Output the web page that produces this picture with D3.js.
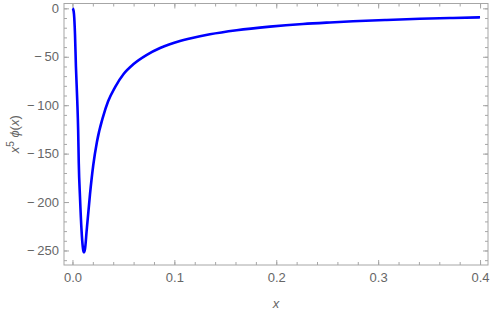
<!DOCTYPE html>
<meta charset="utf-8">
<html>
  <head>
    <title>x5 phi</title>
    <style>
      html,body{
        margin:0;
        padding:0;
        background:#fff;
      }
      text{
        font-family: 'Liberation Sans', Arial, sans-serif;
        font-size: 13px;
        fill: #666;
      }
      .frame{
        fill: none;
        stroke: #a6a6a6;
        stroke-width: 1;
      }
      .tick line{
        stroke: #a6a6a6;
      }
      .curve{
        fill: none;
        stroke: #0000ff;
        stroke-width: 2.6;
        stroke-linejoin: round;
      }
    </style>
  </head>
  <body>
    <svg xmlns="http://www.w3.org/2000/svg"></svg>

    <script src="https://d3js.org/d3.v7.min.js"></script>
    <script type="text/javascript">
      var width = 491, height = 315;
      var margin = {top: 3.5, right: 3, bottom: 50, left: 64};

      // curve
      var xs = [0, 0.0007, 0.0015, 0.0025, 0.0034, 0.0047, 0.0056, 0.0062, 0.0074, 0.0089, 0.0101, 0.0107, 0.0113,
                0.0119, 0.0125, 0.0139, 0.0172, 0.0204, 0.024, 0.030, 0.035, 0.042, 0.050, 0.060, 0.073, 0.086,
                0.1055, 0.1153, 0.1349, 0.1611, 0.1938, 0.2262, 0.2527, 0.2753, 0.3083, 0.341, 0.3734, 0.4];
      var ys = [0, -1, -6, -27, -60, -95, -126, -160, -195, -229, -246, -250.5, -252,
                -250.5, -247, -230, -192, -162, -138, -112, -96, -81, -68, -57.5, -48, -41,
                -33.8, -31.2, -26.8, -22.6, -18.9, -16.2, -14.6, -13.4, -12.0, -10.8, -9.9, -9.25];

      var xTicks = [0, 0.1, 0.2, 0.3, 0.4];
      var yTicks = [0, -50, -100, -150, -200, -250];
      var xMinor = d3.range(0, 0.41, 0.02);
      var yMinor = d3.range(-260, 1, 10);

      var svg = d3.select('svg').attr('width', width).attr('height', height);

      var x = d3.scaleLinear()
        .domain([-0.0083, 0.4078])
        .range([margin.left, width - margin.right]);
      var y = d3.scaleLinear()
        .domain([-265, 5])
        .range([height - margin.bottom, margin.top]);

      var x0 = margin.left, x1 = width - margin.right;
      var y0 = height - margin.bottom, y1 = margin.top;

      function noDomain(g){ g.select('.domain').remove(); }
      // mathematica puts a little room after the minus sign
      function yFmt(d){ return d < 0 ? '\u2212\u2009' + Math.abs(d) : String(d); }

      // minor ticks
      svg.append('g').attr('transform', 'translate(0,' + y0 + ')')
        .call(d3.axisBottom(x).tickValues(xMinor).tickSize(-3).tickFormat('')).call(noDomain);
      svg.append('g').attr('transform', 'translate(0,' + y1 + ')')
        .call(d3.axisTop(x).tickValues(xMinor).tickSize(-3).tickFormat('')).call(noDomain);
      svg.append('g').attr('transform', 'translate(' + x0 + ',0)')
        .call(d3.axisLeft(y).tickValues(yMinor).tickSize(-3).tickFormat('')).call(noDomain);
      svg.append('g').attr('transform', 'translate(' + x1 + ',0)')
        .call(d3.axisRight(y).tickValues(yMinor).tickSize(-3).tickFormat('')).call(noDomain);

      // major ticks
      svg.append('g').attr('transform', 'translate(0,' + y0 + ')')
        .call(d3.axisBottom(x).tickValues(xTicks).tickSize(-5).tickPadding(8).tickFormat(d3.format('.1f')))
        .call(noDomain);
      svg.append('g').attr('transform', 'translate(0,' + y1 + ')')
        .call(d3.axisTop(x).tickValues(xTicks).tickSize(-5).tickFormat('')).call(noDomain);
      svg.append('g').attr('transform', 'translate(' + x0 + ',0)')
        .call(d3.axisLeft(y).tickValues(yTicks).tickSize(-5).tickPadding(5).tickFormat(yFmt))
        .call(noDomain);
      svg.append('g').attr('transform', 'translate(' + x1 + ',0)')
        .call(d3.axisRight(y).tickValues(yTicks).tickSize(-5).tickFormat('')).call(noDomain);

      svg.selectAll('.tick text').attr('font-family', null).attr('font-size', null);

      svg.append('rect')
        .attr('class', 'frame')
        .attr('x', x0).attr('y', y1)
        .attr('width', x1 - x0).attr('height', y0 - y1);

      var line = d3.line()
        .x(function(d, i){ return x(xs[i]); })
        .y(function(d, i){ return y(ys[i]); })
        .curve(d3.curveMonotoneX);

      svg.append('path')
        .attr('class', 'curve')
        .attr('d', line(xs));

      // axis labels
      svg.append('text')
        .attr('x', (x0 + x1) / 2)
        .attr('y', 308)
        .attr('text-anchor', 'middle')
        .style('font-style', 'italic')
        .text('x');

      var yl = svg.append('text')
        .attr('transform', 'translate(19,' + ((y0 + y1) / 2) + ') rotate(-90)')
        .attr('text-anchor', 'middle');
      yl.append('tspan').style('font-style', 'italic').text('x');
      yl.append('tspan').attr('dy', -5).style('font-size', '10px').text('5');
      yl.append('tspan').attr('dy', 5).text(' ');
      yl.append('tspan').style('font-style', 'italic').text('\u03d5');
      yl.append('tspan').text('(');
      yl.append('tspan').style('font-style', 'italic').text('x');
      yl.append('tspan').text(')');
    </script>
  </body>
</html>
